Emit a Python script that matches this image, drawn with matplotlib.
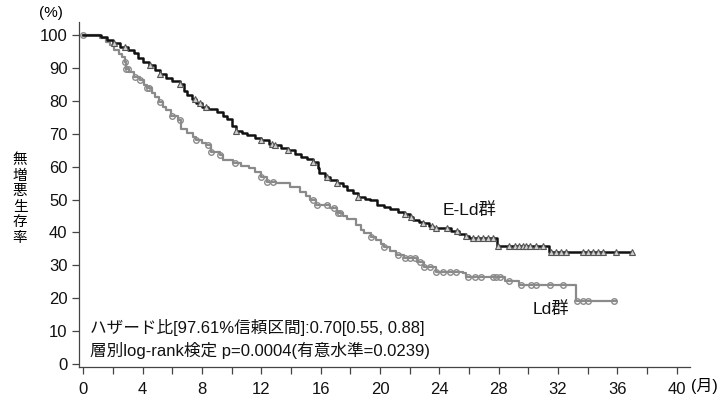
import numpy as np
import matplotlib
matplotlib.use('Agg')
import matplotlib.pyplot as plt
from matplotlib.ticker import MultipleLocator

plt.rcParams['font.family'] = ['Liberation Sans', 'Noto Sans CJK JP']

# ----------------------------------------------------------------
# Datos (meses, % sin progresión)
# ----------------------------------------------------------------
eld_t = [0, 1.2, 1.6, 2.0, 2.5, 3.0, 3.4, 3.7, 4.0, 4.4, 4.8, 5.2, 5.6, 6.0,
         6.5, 6.8, 7.0, 7.3, 7.6, 8.0, 8.4, 9.0, 9.4, 9.7, 10.0, 10.3, 10.7,
         11.0, 11.6, 12.0, 12.5, 12.8, 13.3, 13.8, 14.3, 14.7, 15.1, 15.5,
         15.8, 15.9, 16.3, 16.6, 17.1, 17.5, 17.8, 18.2, 18.5, 19.0, 19.3,
         19.8, 20.3, 20.7, 21.2, 21.6, 22.0, 22.2, 22.6, 22.9, 23.3, 23.6,
         24.8, 25.3, 25.7, 26.0, 27.9, 31.4, 37.0]
eld_s = [100, 99.5, 98.5, 97.5, 96.5, 95.5, 94.5, 93, 92, 91, 89.5, 88.3, 87,
         86, 85.3, 83, 81.8, 80.5, 79.3, 78.3, 77.5, 76.7, 75.5, 74.5, 72.5,
         71, 70.2, 69.6, 68.8, 68, 67, 66.5, 65.8, 65, 64, 63, 62.2, 61.5,
         59.5, 58, 56.8, 55.9, 54.9, 54, 53, 52, 50.9, 50.3, 49.8, 48.3, 47.6,
         47, 46.2, 45.6, 44.6, 43.8, 43.2, 42.8, 42.1, 41.5, 40.5, 39.5, 38.8,
         38.2, 35.9, 34.1, 34.1]
eld_cens = [2.1, 2.8, 4.5, 5.2, 6.5, 7.5, 7.85, 8.3, 10.3, 12.0, 12.7, 12.9,
            13.8, 15.5, 16.4, 17.1, 18.5, 21.7, 22.1, 22.9, 23.5, 23.8, 24.5,
            25.2, 25.8, 26.26, 26.6, 26.94, 27.27, 27.6, 27.95, 28.73, 29.07,
            29.4, 29.63, 29.86, 30.08, 30.53, 30.98, 31.54, 31.88, 32.21,
            32.55, 33.67, 34.0, 34.34, 34.68, 35.02, 35.92, 36.97]

ld_t = [0, 1.1, 1.5, 1.8, 2.1, 2.4, 2.6, 2.8, 2.9, 3.1, 3.4, 3.8, 4.1, 4.3,
        4.6, 4.8, 5.1, 5.4, 5.6, 5.9, 6.4, 6.6, 7.0, 7.4, 7.6, 8.0, 8.3, 8.6,
        9.2, 9.4, 10.1, 10.6, 11.2, 11.6, 12.0, 12.35, 13.0, 13.9, 14.6, 15.0,
        15.3, 15.7, 16.6, 17.1, 17.5, 17.8, 18.4, 18.7, 18.9, 19.4, 19.75,
        20.1, 20.3, 20.7, 21.1, 21.6, 22.5, 23.0, 23.8, 25.6, 25.8, 28.4, 29.4,
        33.2, 35.9]
ld_s = [100, 99, 98, 97, 95.5, 94.3, 93.4, 91.9, 89.8, 88.8, 87.3, 86.3, 85,
        83.8, 82.5, 81.2, 79.6, 78.2, 77.2, 75.5, 74.2, 71.6, 70.4, 69.1, 68.1,
        67.3, 66.6, 64.5, 63.5, 62, 61.2, 60.3, 59.5, 58.3, 56.9, 55.4, 54.9,
        53.9, 52.4, 51, 49.8, 48.3, 47.3, 45.8, 45, 44, 42.2, 40.8, 39.7, 38.7,
        37.7, 36.5, 35.7, 34.3, 33.1, 32.1, 31.1, 29.6, 28.1, 27.6, 26.5, 25.2,
        24.0, 19.3, 19.3]
ld_cens = [0, 2.8, 2.9, 3.0, 3.5, 3.8, 4.3, 4.4, 5.2, 6.0, 6.5, 7.6, 8.4, 8.6,
           9.2, 10.2, 12.0, 12.4, 12.8, 15.5, 15.75, 16.4, 16.9, 17.15, 17.3,
           19.4, 20.3, 21.2, 21.66, 22.0, 22.34, 22.67, 23.0, 23.35, 23.8,
           24.24, 24.69, 25.14, 25.93, 26.38, 26.83, 27.61, 27.84, 28.06, 28.73,
           29.52, 30.19, 30.53, 31.43, 32.32, 33.27, 33.67, 34.01, 35.8]

x_ticks = list(range(0, 41, 4))
y_ticks = list(range(0, 101, 10))


def valor_escalon(t, s, tc):
    """Valor de la curva escalonada en los tiempos de censura."""
    idx = np.searchsorted(np.array(t), np.array(tc), side='right') - 1
    return np.array(s)[idx]


# ----------------------------------------------------------------
# Figura
# ----------------------------------------------------------------
fig = plt.figure(figsize=(7.18, 4.01), dpi=100)
ax = fig.add_axes([0.1105, 0.085, 0.8505, 0.86])

ax.step(ld_t, ld_s, where='post', color='#8a8a8a', lw=1.6, zorder=2)
ax.plot(ld_cens, valor_escalon(ld_t, ld_s, ld_cens), 'o', ms=4.0,
        mfc='none', mec='#8a8a8a', mew=1.0, zorder=3)

ax.step(eld_t, eld_s, where='post', color='#111111', lw=1.8, zorder=4)
ax.plot(eld_cens, valor_escalon(eld_t, eld_s, eld_cens), '^', ms=4.2,
        mfc='#d0d0d0', mec='#555555', mew=0.8, zorder=5)

ax.set_xlim(-0.27, 40.9)
ax.set_ylim(-0.9, 104)
ax.set_xticks(x_ticks)
ax.set_yticks(y_ticks)
ax.xaxis.set_minor_locator(MultipleLocator(2))
ax.tick_params(axis='both', labelsize=12, length=5, width=0.9,
               color='#444444', labelcolor='#111111')
ax.tick_params(axis='x', which='minor', length=5, width=0.9, color='#444444')
ax.tick_params(axis='x', pad=6)
for lado in ['top', 'right']:
    ax.spines[lado].set_visible(False)
for lado in ['left', 'bottom']:
    ax.spines[lado].set_color('#444444')
    ax.spines[lado].set_linewidth(0.9)

# Etiquetas de grupo y resultados
ax.text(24.2, 46.8, 'E-Ld群', fontsize=12.5, va='center', ha='left', color='#111111')
ax.text(30.3, 16.7, 'Ld群', fontsize=12.5, va='center', ha='left', color='#111111')
ax.text(0.45, 11.2, 'ハザード比[97.61%信頼区間]:0.70[0.55, 0.88]',
        fontsize=12, va='center', ha='left', color='#111111')
ax.text(0.45, 4.0, '層別log-rank検定 p=0.0004(有意水準=0.0239)',
        fontsize=12, va='center', ha='left', color='#111111')

fig.text(51 / 718, 1 - 13 / 401, '(%)', fontsize=11, ha='center', va='center')
fig.text(704 / 718, 1 - 386 / 401, '(月)', fontsize=11.5, ha='center', va='center')
fig.text(20 / 718, 1 - 199 / 401, '\n'.join('無増悪生存率'), fontsize=10.5,
         ha='center', va='center', linespacing=1.15)

fig.savefig('out.png', dpi=100)
